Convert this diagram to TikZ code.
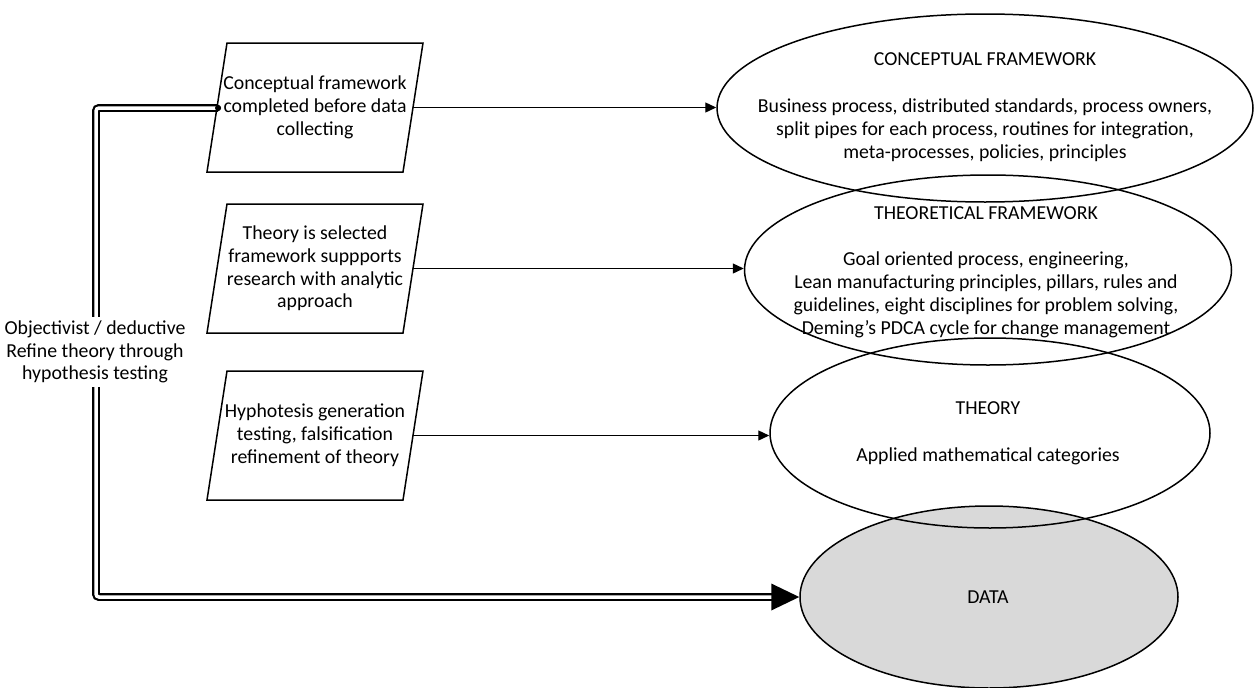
\documentclass[tikz,border=0pt]{standalone}
\usepackage{fontspec}
\setmainfont{Carlito}
\usetikzlibrary{shapes.geometric,arrows.meta,calc}
\definecolor{datafill}{RGB}{217,217,217}
\begin{document}
\begin{tikzpicture}[x=1pt,y=-1pt,
  every node/.style={font=\fontsize{19.8}{22.8}\selectfont},
  stagebox/.style={minimum width=196pt, minimum height=129pt, inner sep=0pt, align=center},
  slant/.style={draw, line width=1.5pt, line join=miter},
  oval/.style={draw, ellipse, line width=1.5pt, inner sep=0pt},
  txt/.style={align=center, inner sep=0pt},
  link/.style={line width=1.3pt, -{Triangle[length=11pt,width=10pt]}},
  dbl/.style={draw=black, double=white, double distance=3.5pt, line width=2.2pt,
    rounded corners=3pt}
]
\useasboundingbox (0,0) rectangle (1256,688);

% layered framework ovals (DATA first so the others are drawn over its fill)
\node[oval, fill=datafill, minimum width=378pt, minimum height=182pt] (data) at (989,597) {};
\node[oval, minimum width=440pt, minimum height=190pt] (e3) at (990,433) {};
\node[oval, minimum width=487pt, minimum height=190pt] (e2) at (988,270) {};
\node[oval, minimum width=536pt, minimum height=188pt] (e1) at (985,108) {};

\node[txt] (t1) at (985,107) {CONCEPTUAL FRAMEWORK\\[24pt]
  Business process, distributed standards, process owners,\\
  split pipes for each process, routines for integration,\\
  meta-processes, policies, principles};
\node[txt] (t2) at (986,272) {THEORETICAL FRAMEWORK\\[24pt]
  Goal oriented process, engineering,\\
  Lean manufacturing principles, pillars, rules and\\
  guidelines, eight disciplines for problem solving,\\
  Deming’s PDCA cycle for change management};
\node[txt] (t3) at (988,433) {THEORY\\[24pt] Applied mathematical categories};
\node[txt] (t4) at (988,597) {DATA};

% research stages: text nodes framed by parallelograms
\node[stagebox] (b1) at (315,107.5) {Conceptual framework\\completed before data\\collecting};
\node[stagebox] (b2) at (315,268.5) {Theory is selected\\framework suppports\\research with analytic\\approach};
\node[stagebox] (b3) at (315,435.5) {Hyphotesis generation\\testing, falsification\\refinement of theory};
\foreach \b in {b1,b2,b3}
  \draw[slant] ($(\b)+(-108,64.5)$) -- ($(\b)+(88,64.5)$) -- ($(\b)+(108,-64.5)$)
    -- ($(\b)+(-88,-64.5)$) -- cycle;

\draw[link] (b1.east) -- (b1.east -| e1.west);
\draw[link] (b2.east) -- (b2.east -| e2.west);
\draw[link] (b3.east) -- (b3.east -| e3.west);

% deductive path down to the data
\coordinate (k1) at (96,108);
\coordinate (k2) at (96,597);
\node[circle, fill, inner sep=0pt, minimum size=6pt] (dot) at (218,108) {};
\draw[dbl, shorten >=27pt] (dot.center) -- (k1) -- (k2) -- (k2 -| data.west);
\fill (data.west) -- ++(-28,-13.5) -- ++(0,27) -- cycle;
\node[circle, fill, inner sep=0pt, minimum size=6pt] at (dot) {};

\node[txt, fill=white, inner sep=4pt] (lbl) at (95,352)
  {Objectivist / deductive\\Refine theory through\\hypothesis testing};
\end{tikzpicture}
\end{document}
